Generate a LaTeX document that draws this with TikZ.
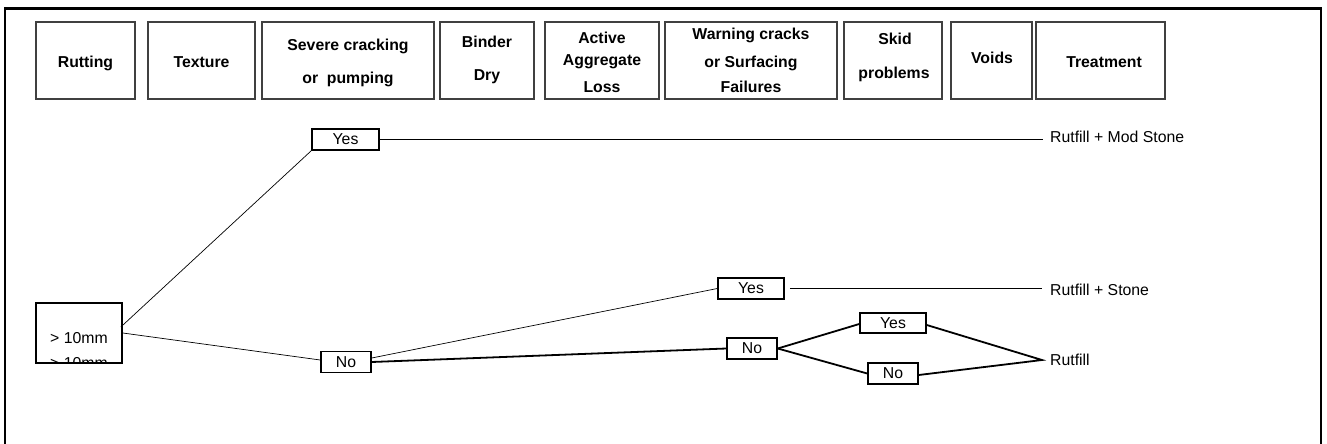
\documentclass[tikz,border=0pt]{standalone}
\usepackage{fontspec}
\setmainfont{Liberation Sans}
\begin{document}
\begin{tikzpicture}[x=1pt,y=-1pt,
  hbox/.style={draw=black!75, line width=1.1pt, minimum height=77pt, inner sep=0pt},
  htxt/.style={font=\bfseries\fontsize{15.8}{18}\selectfont, anchor=base, inner sep=0pt},
  ynbox/.style={draw, line width=1.5pt, inner sep=0pt, minimum height=21pt,
                font=\fontsize{15.8}{18}\selectfont},
  result/.style={anchor=west, inner sep=0pt, font=\fontsize{15.8}{18}\selectfont},
  lnthin/.style={line width=0.7pt},
  lnmid/.style={line width=1.3pt},
  lnbold/.style={line width=1.8pt},
]
\useasboundingbox (0,0) rectangle (1327,444);

% outer frame (open at the bottom)
\draw[line width=2.4pt] (5,444) -- (5,8.5) -- (1321,8.5) -- (1321,444);

% column headings
\node[hbox, minimum width=99pt]  (b1) at (85.5,60.5) {};
\node[hbox, minimum width=107pt] (b2) at (201.5,60.5) {};
\node[hbox, minimum width=172pt] (b3) at (348,60.5) {};
\node[hbox, minimum width=94pt]  (b4) at (487,60.5) {};
\node[hbox, minimum width=114pt] (b5) at (602,60.5) {};
\node[hbox, minimum width=172pt] (b6) at (751,60.5) {};
\node[hbox, minimum width=98pt]  (b7) at (893,60.5) {};
\node[hbox, minimum width=81pt]  (b8) at (991.5,60.5) {};
\node[hbox, minimum width=129pt] (b9) at (1100.5,60.5) {};

\node[htxt] (t1)  at (85.5,67.5) {Rutting};
\node[htxt] (t2)  at (201.5,67.5) {Texture};
\node[htxt] (t3a) at (348,50.7) {Severe cracking};
\node[htxt] (t3b) at (348,83.5) {or\ \ pumping};
\node[htxt] (t4a) at (487,47.3) {Binder};
\node[htxt] (t4b) at (487,81) {Dry};
\node[htxt] (t5a) at (602,43.3) {Active};
\node[htxt] (t5b) at (602,66) {Aggregate};
\node[htxt] (t5c) at (602,92.3) {Loss};
\node[htxt] (t6a) at (751,39.3) {Warning cracks};
\node[htxt] (t6b) at (751,67.3) {or Surfacing};
\node[htxt] (t6c) at (751,92.3) {Failures};
\node[htxt] (t7a) at (895,45) {Skid};
\node[htxt] (t7b) at (894,78) {problems};
\node[htxt] (t8)  at (992,63.3) {Voids};
\node[htxt] (t9)  at (1104,67.7) {Treatment};

% rut depth box, its text cut off by the frame
\node[draw, line width=1.6pt, minimum width=86pt, minimum height=60pt, inner sep=0pt] (mm) at (79,333) {};
\begin{scope}
  \clip (mm.south west) rectangle (mm.north east);
  \node[anchor=base west, inner sep=0pt, font=\fontsize{15.8}{18}\selectfont] (mm1) at (50,343) {> 10mm};
  \node[anchor=base west, inner sep=0pt, font=\fontsize{15.8}{18}\selectfont] (mm2) at (50,368) {> 10mm};
\end{scope}

% decision boxes
\node[ynbox, minimum width=67pt] (y1) at (345.5,139.5) {Yes};
\node[ynbox, minimum width=50pt] (n1) at (346,362) {No};
\node[ynbox, minimum width=66pt] (y2) at (751,288.5) {Yes};
\node[ynbox, minimum width=50pt] (n2) at (752,348.5) {No};
\node[ynbox, minimum width=66pt, minimum height=20pt] (y3) at (893,323) {Yes};
\node[ynbox, minimum width=50pt] (n3) at (893,373.5) {No};

% treatments
\node[result] (r1) at (1050,137) {Rutfill + Mod Stone};
\node[result] (r2) at (1050,290) {Rutfill + Stone};
\node[result] (r3) at (1050,360) {Rutfill};

% connectors
\draw[lnthin] ([xshift=-2pt,yshift=6pt]mm.east) -- (y1.south west);
\draw[lnthin] (mm.east) -- ([yshift=2pt]n1.west);
\draw[lnthin] ([yshift=4pt]n1.east) -- (y2.west);
\draw[lnbold] (n1.east) -- (n2.west);
\draw[lnmid] (y1.east) -- ([xshift=-7pt]y1.east -| r1.west);
\draw[lnmid] ([xshift=5pt]y2.east) -- ([xshift=-8pt]y2.east -| r2.west);
\draw[lnbold] (n2.east) -- ([yshift=-1pt]y3.west);
\draw[lnbold] (n2.east) -- (n3.west);
\draw[lnbold] ([yshift=-2pt]y3.east) -- ([xshift=-8pt]r3.west) -- ([yshift=-1.5pt]n3.east);
\end{tikzpicture}
\end{document}
